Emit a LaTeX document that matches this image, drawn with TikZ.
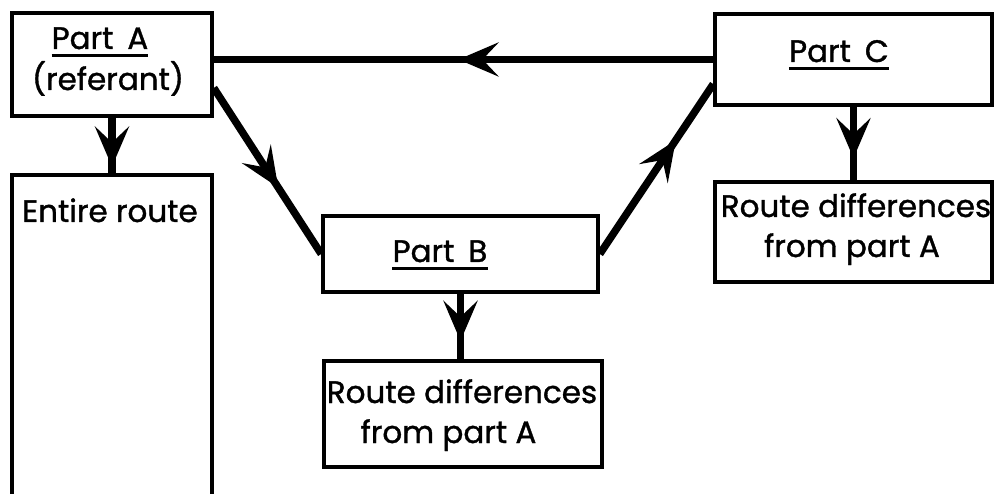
\documentclass[tikz,border=0pt]{standalone}
\usepackage{fontspec}
\setmainfont{Poppins}[UprightFeatures={FakeBold=1.2}]
\usetikzlibrary{arrows.meta,decorations.markings,calc}
\tikzset{
  box/.style={draw, line width=3.5pt, inner sep=0pt, minimum width=#1},
  flow/.style={line width=7.5pt},
  headat/.style={decoration={markings,
      mark=at position #1 with {\arrow{Stealth[length=40pt,width=34pt,inset=16pt]}}},
    postaction={decorate}},
  txt/.style={inner sep=0pt, anchor=base, font=\fontsize{31}{36}\selectfont},
  uline/.style={line width=3pt},
}
\begin{document}
\begin{tikzpicture}[x=1pt,y=-1pt]
  \useasboundingbox (0,0) rectangle (994,494);
  \fill[white] (0,0) rectangle (994,494);
  \clip (0,0) rectangle (994,494);

  % boxes
  \node[box=200, minimum height=103] (A)  at (112,64.5) {};
  \node[box=200, minimum height=345] (E)  at (112,347.5) {};
  \node[box=275, minimum height=76]  (B)  at (460.5,254) {};
  \node[box=278, minimum height=106] (RB) at (463,414) {};
  \node[box=277, minimum height=91]  (C)  at (853.5,59.5) {};
  \node[box=277, minimum height=100] (RC) at (853.5,232) {};

  % texts
  \node[txt] (tA)  at (100,49)  {Part\hspace{0.45em}A};
  \node[txt] (tA2) at (108,90)  {(referant)};
  \node[txt] (tE)  at (110,222) {Entire route};
  \node[txt] (tB)  at (440,262) {Part\hspace{0.45em}B};
  \node[txt] (tRB1) at (462,403) {Route differences};
  \node[txt] (tRB2) at (448.5,443) {from part A};
  \node[txt] (tC)  at (839,62)  {Part\hspace{0.45em}C};
  \node[txt] (tRC1) at (856,217) {Route differences};
  \node[txt] (tRC2) at (852,257) {from part A};

  % underlines of the part titles
  \foreach \t in {tA,tB,tC}
    \draw[uline] ($(\t.base west)+(0,7)$) -- ($(\t.base east)+(0,7)$);

  % connectors
  \draw[flow, headat=0.51] (C.west) -- (C.west -| A.east);
  \draw[flow, headat=0.60] ($(A.north east)!0.72!(A.south east)$) -- (B.west);
  \draw[flow, headat=0.67] (B.east) -- ($(C.north west)!0.76!(C.south west)$);
  \draw[flow, headat=0.88] (A.south) -- (E.north);
  \draw[flow, headat=0.72] (B.south) -- (B.south |- RB.north);
  \draw[flow, headat=0.70] (C.south) -- (C.south |- RC.north);
\end{tikzpicture}
\end{document}
